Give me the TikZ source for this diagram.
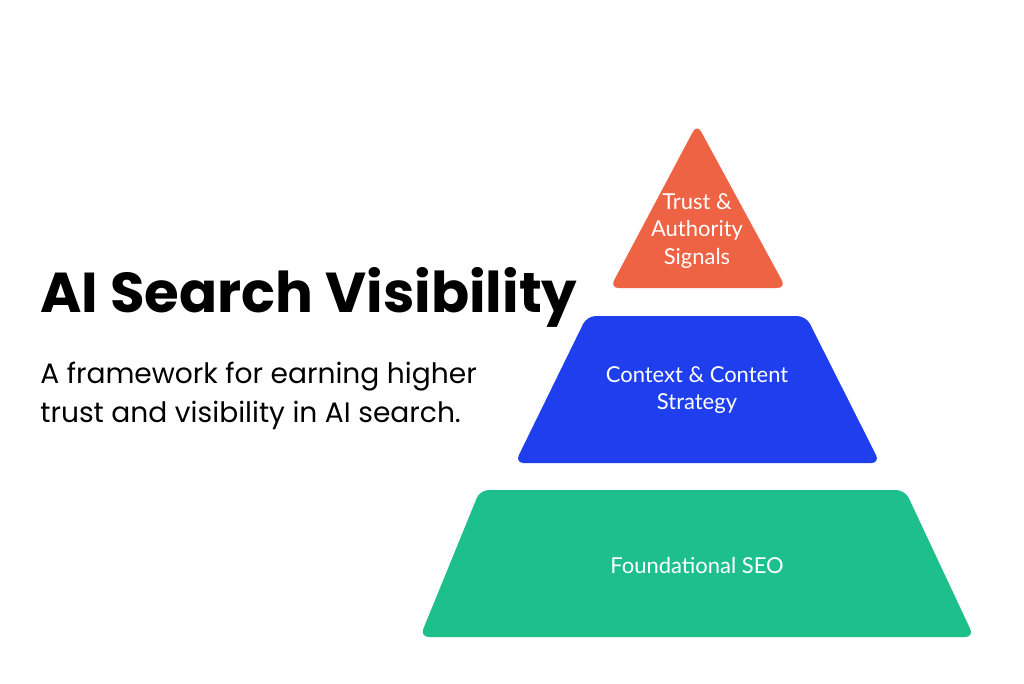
\documentclass[tikz,border=0pt]{standalone}
\usepackage{fontspec}
\setmainfont{Poppins}
\newfontfamily\labelfont{Lato}
\definecolor{tierred}{HTML}{EE6344}
\definecolor{tierblue}{HTML}{1F3FEE}
\definecolor{tiergreen}{HTML}{1DBF8A}
\tikzstyle{tier}=[draw=none,rounded corners=5pt]
\tikzstyle{tierlabel}=[text=white,font=\labelfont\fontsize{12.5}{15.5}\selectfont,align=center]

\begin{document}
\begin{tikzpicture}[x=0.02cm, y=-0.02cm]
  \useasboundingbox[fill=white] (0,0) rectangle (1024,683);

  % pyramid tiers
  \fill[tier, tierred] (697,124) -- (786,288) -- (610,288) -- cycle;
  \fill[tier, tierblue] (587,316) -- (806,316) -- (880,463) -- (515,463) -- cycle;
  \fill[tier, tiergreen] (480,490) -- (905,490) -- (974,637) -- (420,637) -- cycle;

  \node[tierlabel] (top) at (697,231) {Trust \&\\Authority\\Signals};
  \node[tierlabel] (mid) at (697,390) {Context \& Content\\Strategy};
  \node[tierlabel] (base) at (697,565) {Foundational SEO};

  % heading
  \node[anchor=base west, inner sep=0pt, font=\fontsize{32}{38}\selectfont\bfseries] (title) at (40,312) {AI Search Visibility};
  \node[anchor=north west, inner sep=0pt, align=left, font=\fontsize{16}{22}\selectfont] (sub) at (40,362)
    {A framework for earning higher\\trust and visibility in AI search.};
\end{tikzpicture}
\end{document}
